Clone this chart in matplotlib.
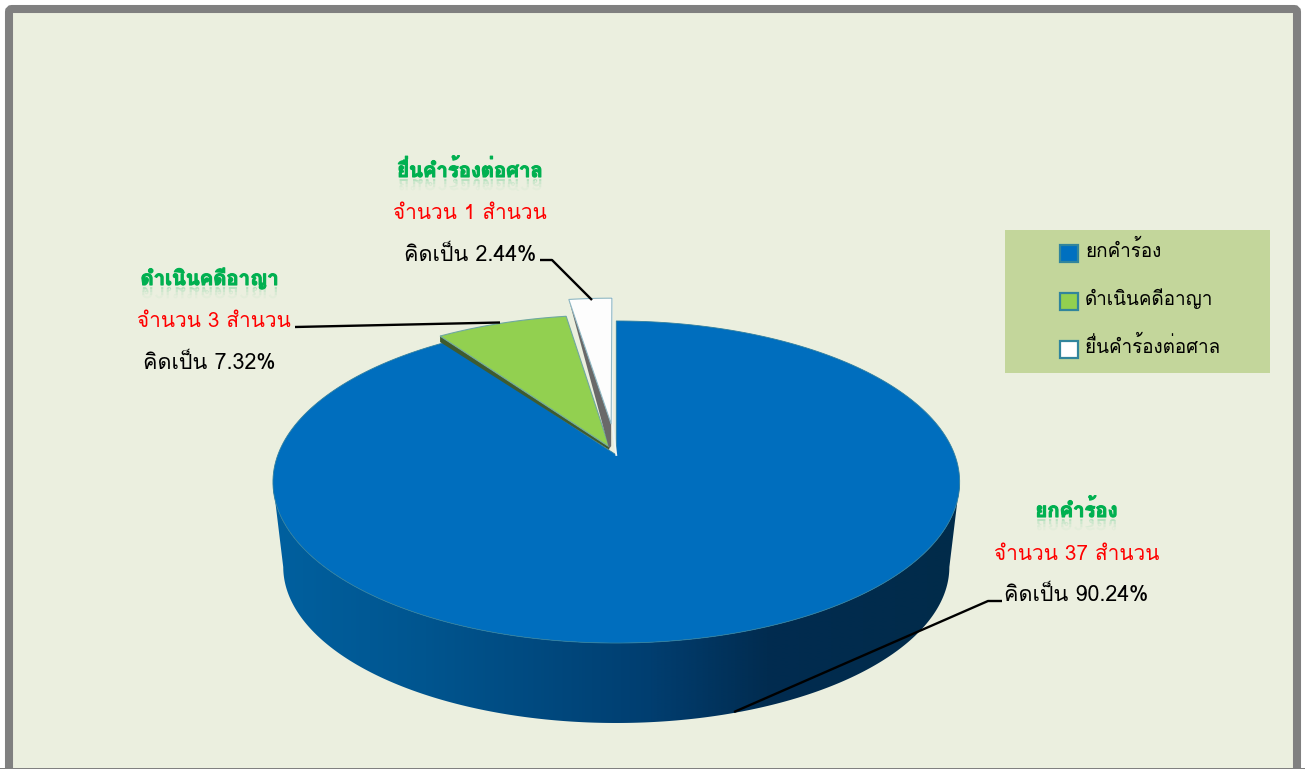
import numpy as np
import matplotlib
matplotlib.use('Agg')
import matplotlib.pyplot as plt
import matplotlib.patheffects as pe
from matplotlib.patches import Polygon, Rectangle, FancyBboxPatch, Patch, PathPatch
from matplotlib.colors import LinearSegmentedColormap
from matplotlib.textpath import TextPath
from matplotlib.font_manager import FontProperties
from matplotlib.transforms import Affine2D

# ---------- data ----------
categories = ['ยกคำร้อง', 'ดำเนินคดีอาญา', 'ยื่นคำร้องต่อศาล']
counts = [37, 3, 1]
percents = [90.24, 7.32, 2.44]
slice_colors = ['#006EBE', '#92D050', '#FDFDFD']
edge_colors = ['#2F7F9F', '#6FA8A0', '#8FB8C4']
legend_colors = ['#0070C0', '#92D050', '#FFFFFF']
count_label = 'จำนวน {} สำนวน'
percent_label = 'คิดเป็น {:.2f}%'

THAI = 'Loma'
FONT = [THAI, 'DejaVu Sans']
GREEN, RED = '#00B050', '#FF0000'
BG, FRAME, LEGEND_BG = '#EBEFDF', '#808080', '#C3D69B'

# ---------- projection of the tilted pie ----------
CX, CY = 616.3, 455.0
RX, RY, K = 338.5, 156.5, 0.1677
DEPTH_SCALE, DEPTH_CY = 0.97, 540.6


def project(u, v, scale=1.0, cy=CY):
    s = scale / (1 + K * np.asarray(v))
    return CX + RX * np.asarray(u) * s, cy - RY * np.asarray(v) * s


def sector(a0, a1, explode=0.0):
    """Top face of a slice between clockwise angles from 12 o'clock (degrees)."""
    mid = np.radians((a0 + a1) / 2)
    ou, ov = explode * np.sin(mid), explode * np.cos(mid)
    t = np.radians(np.linspace(a0, a1, 240))
    u = np.r_[ou, ou + np.sin(t)]
    v = np.r_[ov, ov + np.cos(t)]
    x, y = project(u, v)
    return np.column_stack([x, y])


fig = plt.figure(figsize=(13.05, 7.69), dpi=100, facecolor='white')
ax = fig.add_axes([0, 0, 1, 1])
ax.axis('off')

# ---------- frame ----------
ax.add_patch(FancyBboxPatch((9, 9), 1288, 775, boxstyle='round,pad=0,rounding_size=3',
                            fc=BG, ec=FRAME, lw=5.8, zorder=0))
ax.add_patch(Rectangle((0, 768), 1305, 2, fc=FRAME, ec='none', zorder=0.5))

# ---------- pie ----------
total = sum(counts)
sweeps = [c / total * 360 for c in counts]
starts = np.r_[0, np.cumsum(sweeps)[:-1]]
explodes = [0.0, 0.057, 0.205]

# side wall of the big slice, shaded left to right
side_cmap = LinearSegmentedColormap.from_list(
    'side', [(0, '#00609F'), (0.22, '#00558F'), (0.55, '#013E70'), (0.72, '#012C50'), (1, '#012B4A')])
th = np.radians(np.linspace(0, 360, 1441))
xt, yt = project(np.sin(th), np.cos(th))
xb, yb = project(np.sin(th), np.cos(th), DEPTH_SCALE, DEPTH_CY)
i_r, i_l = int(np.argmax(xt)), int(np.argmin(xt))
idx = np.arange(i_r, i_l + 1)
wall_xy = np.r_[np.column_stack([xt[idx], yt[idx]]), np.column_stack([xb[idx], yb[idx]])[::-1]]
wall = Polygon(wall_xy, closed=True, fc='none', ec='none', zorder=2)
ax.add_patch(wall)
ramp = np.linspace(0, 1, 686).reshape(1, -1)
im = ax.imshow(ramp, cmap=side_cmap, aspect='auto', zorder=2, interpolation='bilinear',
               extent=(xt[i_l], xt[i_r], 730, 480))
im.set_clip_path(wall)

ax.set_xlim(0, 1305)
ax.set_ylim(769, 0)

# top face of the big slice
blue = sector(starts[0], starts[0] + sweeps[0], explodes[0])
ax.add_patch(Polygon(blue, closed=True, fc=slice_colors[0], ec=edge_colors[0], lw=0.6, zorder=3))

# thin walls of the pulled-out slices
green = sector(starts[1], starts[1] + sweeps[1], explodes[1])
white = sector(starts[2], starts[2] + sweeps[2], explodes[2])
ax.add_patch(Polygon([green[1], green[0], green[0] + (0, 3), green[1] + (0, 6)], closed=True,
                     fc='#3F5B2F', ec='none', zorder=3.2))
ax.add_patch(Polygon(green, closed=True, fc=slice_colors[1], ec=edge_colors[1], lw=0.8, zorder=3.4))
ax.add_patch(Polygon([white[1], white[0], white[0] + (0, 22), green[0] + (0, 2)], closed=True,
                     fc='#696969', ec='none', zorder=3.6))
ax.plot([white[-1][0], white[0][0] + 1, blue[0][0]], [white[-1][1], white[0][1], blue[0][1]],
        color='#EFF5F5', lw=1.3, zorder=3.5)
ax.add_patch(Polygon(white, closed=True, fc=slice_colors[2], ec=edge_colors[2], lw=0.8, zorder=3.8))


# ---------- text ----------
TITLE_SIZE, COUNT_SIZE, PCT_SIZE, LEGEND_SIZE = 14.6, 14.9, 15.5, 13.6


def reflected_title(s, xc, y_base, size):
    fp = FontProperties(family=THAI, weight='bold', size=size)
    tp = TextPath((0, 0), s, prop=fp)
    bb = tp.get_extents()
    scale = 100 / 72
    base = Affine2D().translate(-bb.x0 - bb.width / 2, 0).scale(scale, scale)
    tr = base + Affine2D().translate(xc, y_base + 2)
    bands = [(1, 4, .22), (4, 7, .13), (7, 10, .07), (10, 14, .03)]
    for y0, y1, a in bands:
        p = PathPatch(tr.transform_path(tp), fc=GREEN, ec='none', alpha=a, zorder=4)
        ax.add_patch(p)
        p.set_clip_path(Rectangle((xc - 200, y_base + y0), 400, y1 - y0, transform=ax.transData))


def label_block(i, xc, y_title, xc_count, y_count, xc_pct, y_pct):
    ax.text(xc, y_title, categories[i], color=GREEN, family=FONT, weight='bold', fontsize=TITLE_SIZE,
            ha='center', va='baseline', zorder=5,
            path_effects=[pe.withStroke(linewidth=0.8, foreground=GREEN)])
    reflected_title(categories[i], xc, y_title, TITLE_SIZE)
    ax.text(xc_count, y_count, count_label.format(counts[i]), color=RED, family=FONT,
            fontsize=COUNT_SIZE, ha='center', va='baseline', zorder=5)
    ax.text(xc_pct, y_pct, percent_label.format(percents[i]), color='black',
            family=FONT, fontsize=PCT_SIZE, ha='center', va='baseline', zorder=5)


label_block(0, 1076.5, 517, 1077, 560, 1076.5, 601)
label_block(1, 209.5, 285, 213.5, 327, 209.5, 369)
label_block(2, 470, 177, 470, 219, 470, 261)

# ---------- leader lines ----------
for lx, ly in [([1002, 988, 734], [601, 601, 712]),
               ([295, 500], [327, 322.5]),
               ([540, 552, 592], [260, 260, 300])]:
    ax.plot(lx, ly, color='black', lw=1.7, zorder=4.5, solid_capstyle='butt')

# ---------- legend ----------
ax.add_patch(Rectangle((1005, 230), 265, 143, fc=LEGEND_BG, ec='none', zorder=1))
handles = [Patch(fc=c, ec='#31859C', lw=1.6, label=n) for c, n in zip(legend_colors, categories)]
leg = ax.legend(handles=handles, loc='upper left', bbox_to_anchor=(1059.5 / 1305, 1 - 243 / 769),
                bbox_transform=fig.transFigure, frameon=False, borderpad=0, borderaxespad=0,
                handlelength=1.0, handleheight=1.0, handletextpad=0.35, labelspacing=1.42,
                prop=FontProperties(family=FONT, size=LEGEND_SIZE))
leg.set_zorder(5)
for t in leg.get_texts():
    t.set_y(3)

fig.savefig('out.png', dpi=100, facecolor='white')
